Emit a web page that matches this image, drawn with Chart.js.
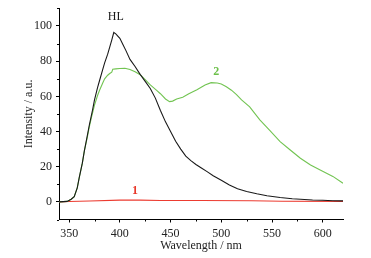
<!DOCTYPE html>
<html>
<head>
<meta charset="utf-8">
<script src="https://cdn.jsdelivr.net/npm/chart.js@4/dist/chart.umd.min.js"></script>
<style>
  html, body { margin: 0; padding: 0; background: #fff; }
  #wrap { width: 371px; height: 258px; }
</style>
</head>
<body>
<div id="wrap"><canvas id="c"></canvas></div>
<script>
// wavelength (nm) / intensity (a.u.)
const hlWave = [340, 348, 352, 355, 358, 360, 363, 365, 368, 370, 373, 375, 378, 380, 383, 385, 388, 390, 392, 394, 396, 400, 403, 406, 410, 415, 420, 425, 430, 435, 440, 445, 450, 455, 460, 465, 470, 475, 480, 486, 492, 500, 508, 516, 525, 535, 545, 558, 570, 578, 590, 600, 610, 620];
const hlInt = [0, 0.3, 1.5, 3, 8, 14, 22, 29, 38, 44, 52, 58, 65, 69, 75, 79, 84, 88, 92, 96.3, 95.5, 93, 89.5, 86, 81, 77, 72.5, 68.5, 64.5, 59, 52, 45.5, 40, 34.5, 30, 26, 23.5, 21.3, 19.4, 17.2, 14.9, 12.3, 9.6, 7.5, 5.9, 4.6, 3.5, 2.5, 1.8, 1.5, 1.1, 0.9, 0.7, 0.6];

const s2Wave = [340, 348, 352, 355, 358, 360, 363, 365, 368, 370, 372, 375, 378, 380, 383, 385, 388, 390, 392, 393, 396, 400, 405, 410, 415, 420, 425, 430, 436, 440, 445, 449, 452, 456, 462, 468, 476, 484, 490, 496, 500, 505, 510, 515, 520, 528, 538, 548, 558, 568, 578, 588, 598, 610, 620];
const s2Int = [0, 0.3, 1.5, 3, 8, 14, 22, 29, 37, 43, 48, 55, 60.5, 63.5, 67.5, 70, 72, 73, 73.8, 75.4, 75.6, 75.8, 76, 75.3, 74, 72.3, 69.5, 66.5, 63.5, 61.5, 58.5, 57, 57.3, 58.5, 59.5, 61.5, 63.8, 66.5, 67.8, 67.6, 67, 65.5, 63.5, 61, 58, 54, 46.6, 40.5, 34.3, 29.5, 24.8, 21, 18, 14.5, 10.6];

const s1Wave = [340, 350, 370, 400, 420, 440, 480, 530, 560, 620];
const s1Int = [0, 0.2, 0.5, 1.0, 1.0, 0.8, 0.8, 0.7, 0.4, 0.3];

const xTicks = [350, 400, 450, 500, 550, 600];
const yTicks = [0, 20, 40, 60, 80, 100];

const serif = '"Liberation Serif", "Times New Roman", serif';

const toPoints = (xs, ys) => xs.map((x, i) => ({ x, y: ys[i] }));

// curve labels, in data units
const curveLabels = [
  { text: 'HL', x: 396, y: 105, color: '#1a1a1a', bold: false },
  { text: '2', x: 495, y: 74, color: '#6cc04a', bold: true },
  { text: '1', x: 415, y: 6, color: '#e8382a', bold: true },
];

const extras = {
  id: 'extras',
  afterDraw(chart) {
    const ctx = chart.ctx;
    const xs = chart.scales.x;
    const ys = chart.scales.y;
    ctx.save();
    ctx.strokeStyle = '#000';
    ctx.lineWidth = 1;
    // minor ticks
    for (let v = 375; v < 620; v += 50) {
      const px = Math.round(xs.getPixelForValue(v)) + 0.5;
      ctx.beginPath();
      ctx.moveTo(px, xs.top);
      ctx.lineTo(px, xs.top + 2);
      ctx.stroke();
    }
    for (let v = -10; v <= 110; v += 20) {
      const py = Math.round(ys.getPixelForValue(v)) + 0.5;
      ctx.beginPath();
      ctx.moveTo(ys.right, py);
      ctx.lineTo(ys.right - 2, py);
      ctx.stroke();
    }
    ctx.textAlign = 'center';
    ctx.textBaseline = 'middle';
    curveLabels.forEach(l => {
      ctx.fillStyle = l.color;
      ctx.font = (l.bold ? 'bold ' : '') + '12px ' + serif;
      ctx.fillText(l.text, xs.getPixelForValue(l.x), ys.getPixelForValue(l.y));
    });
    ctx.restore();
  }
};

new Chart(document.getElementById('c'), {
  type: 'line',
  data: {
    datasets: [
      { label: 'HL', data: toPoints(hlWave, hlInt), borderColor: '#1a1a1a' },
      { label: '2', data: toPoints(s2Wave, s2Int), borderColor: '#72c452' },
      { label: '1', data: toPoints(s1Wave, s1Int), borderColor: '#ec3b30' },
    ],
  },
  options: {
    responsive: true,
    maintainAspectRatio: false,
    animation: false,
    layout: { padding: { top: 8.4, right: 28, left: 0, bottom: 0 } },
    elements: {
      line: { borderWidth: 1.1, tension: 0 },
      point: { radius: 0 },
    },
    plugins: {
      legend: { display: false },
      tooltip: { enabled: false },
    },
    scales: {
      x: {
        type: 'linear',
        min: 340,
        max: 620,
        afterBuildTicks: s => { s.ticks = xTicks.map(v => ({ value: v })); },
        afterFit: s => { s.height = 38.5; },
        grid: { drawOnChartArea: false, tickLength: 3, color: '#000' },
        border: { color: '#000', width: 1 },
        ticks: { color: '#222', padding: 4, maxRotation: 0, font: { family: serif, size: 12 } },
        title: { display: true, text: 'Wavelength / nm', color: '#222', padding: { top: 0, bottom: 5 }, font: { family: serif, size: 12 } },
      },
      y: {
        type: 'linear',
        min: -10,
        max: 110,
        afterBuildTicks: s => { s.ticks = yTicks.map(v => ({ value: v })); },
        afterFit: s => { s.width = 59; s.paddingTop = 0; s.paddingBottom = 0; },
        grid: { drawOnChartArea: false, tickLength: 3, color: '#000' },
        border: { color: '#000', width: 1 },
        ticks: { color: '#222', padding: 4, font: { family: serif, size: 12 } },
        title: { display: true, text: 'Intensity / a.u.', color: '#222', padding: { top: 22, bottom: 0 }, font: { family: serif, size: 12 } },
      },
    },
  },
  plugins: [extras],
});
</script>
</body>
</html>
